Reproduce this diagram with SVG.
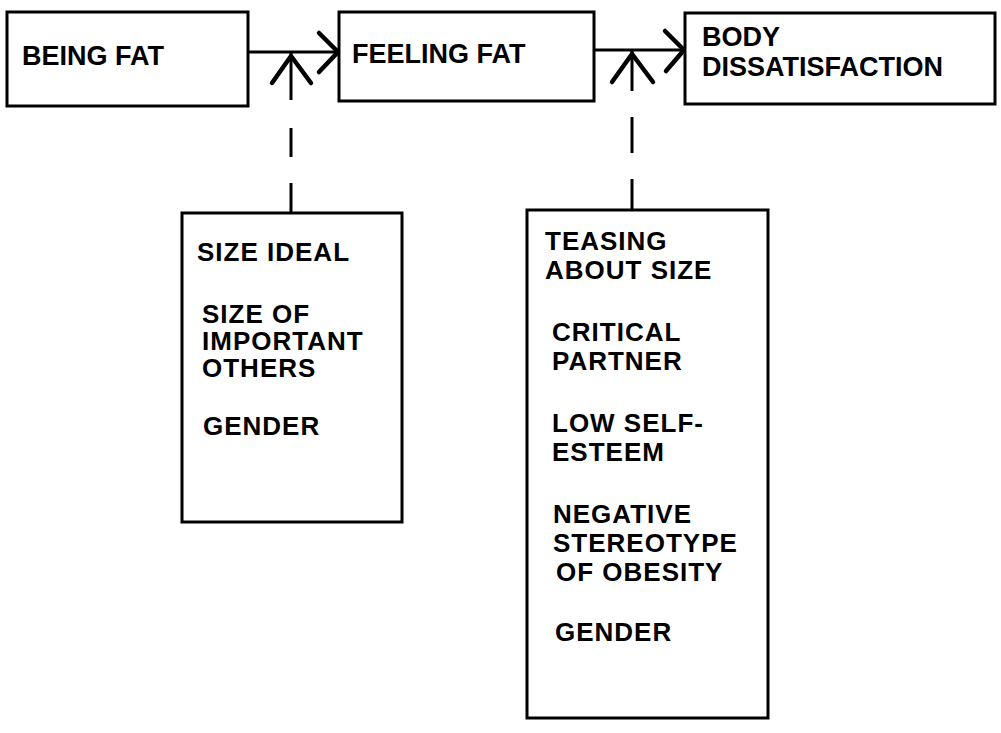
<svg xmlns="http://www.w3.org/2000/svg" width="1001" height="733" viewBox="0 0 1001 733">
<style>
  .box { fill: #fff; stroke: #000; stroke-width: 3; }
  .t { font-family: "Liberation Sans", Arial, sans-serif; font-weight: bold; fill: #000; }
  .big { font-size: 27px; }
  .sm { font-size: 26px; letter-spacing: 1px; }
  .ln { stroke: #000; stroke-width: 3; fill: none; }
  .hd { stroke: #000; stroke-width: 4.5; fill: none; stroke-linecap: round; }
</style>
<rect width="1001" height="733" fill="#fff"/>
<g id="connectors">
  <line class="ln" x1="248" y1="52" x2="339" y2="52"/>
  <polyline class="hd" points="319,33 338,52 319,72"/>
  <line class="ln" x1="291" y1="52" x2="291" y2="100"/>
  <line class="ln" x1="291" y1="128" x2="291" y2="157"/>
  <line class="ln" x1="291" y1="183" x2="291" y2="213"/>
  <polyline class="hd" points="272,83 291,56 311,83"/>
  <line class="ln" x1="594" y1="50" x2="685" y2="50"/>
  <polyline class="hd" points="665,31 684,50 666,71"/>
  <line class="ln" x1="632" y1="50" x2="632" y2="91"/>
  <line class="ln" x1="632" y1="117" x2="632" y2="153"/>
  <line class="ln" x1="632" y1="179" x2="632" y2="210"/>
  <polyline class="hd" points="612,82 632,54 653,82"/>
</g>
<g id="being-fat">
  <rect class="box" x="7" y="12" width="241" height="94"/>
  <text class="t big" x="22" y="65">BEING FAT</text>
</g>
<g id="feeling-fat">
  <rect class="box" x="339" y="12" width="255" height="89"/>
  <text class="t big" x="352" y="63">FEELING FAT</text>
</g>
<g id="body-dissatisfaction">
  <rect class="box" x="685" y="13" width="310" height="91"/>
  <text class="t big" x="702" y="46">BODY</text>
  <text class="t big" x="702" y="76">DISSATISFACTION</text>
</g>
<g id="moderators-1">
  <rect class="box" x="182" y="213" width="220" height="309"/>
  <text class="t sm" x="197" y="261">SIZE IDEAL</text>
  <text class="t sm" x="202" y="323">SIZE OF</text>
  <text class="t sm" x="202" y="350">IMPORTANT</text>
  <text class="t sm" x="202" y="377">OTHERS</text>
  <text class="t sm" x="203" y="435">GENDER</text>
</g>
<g id="moderators-2">
  <rect class="box" x="527" y="210" width="241" height="508"/>
  <text class="t sm" x="545" y="250">TEASING</text>
  <text class="t sm" x="545" y="279">ABOUT SIZE</text>
  <text class="t sm" x="552" y="341">CRITICAL</text>
  <text class="t sm" x="552" y="370">PARTNER</text>
  <text class="t sm" x="552" y="432">LOW SELF-</text>
  <text class="t sm" x="552" y="461">ESTEEM</text>
  <text class="t sm" x="553" y="523">NEGATIVE</text>
  <text class="t sm" x="553" y="552">STEREOTYPE</text>
  <text class="t sm" x="556" y="581">OF OBESITY</text>
  <text class="t sm" x="555" y="641">GENDER</text>
</g>
</svg>
